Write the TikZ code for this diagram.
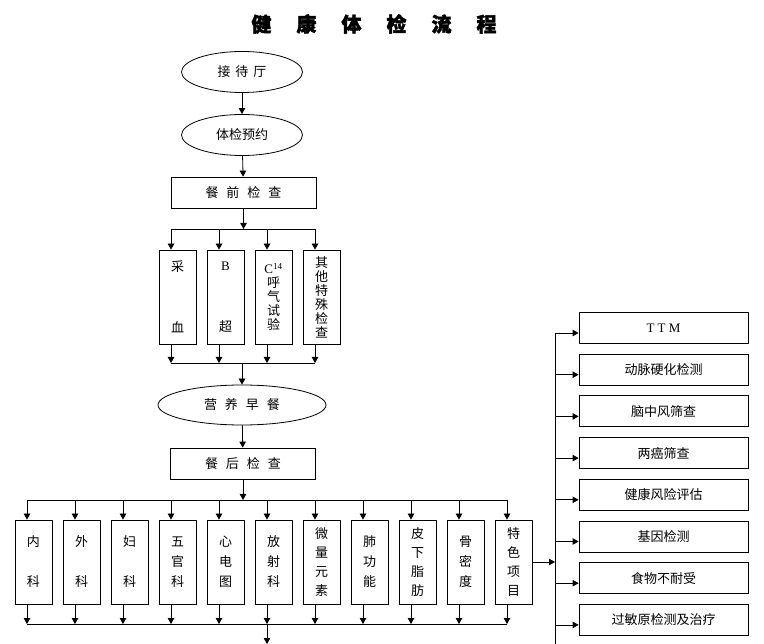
\documentclass[tikz,border=0pt]{standalone}
\usepackage{fontspec}
\setmainfont{Liberation Serif}
\newfontfamily\cjk[BoldFeatures={FakeBold=2}]{Noto Sans CJK SC}
\usetikzlibrary{arrows.meta,positioning,shapes.geometric}
\newcommand{\gp}{\hspace{8pt}}

\begin{document}
\begin{tikzpicture}[x=1pt,y=-1pt,>={Triangle[length=6pt,width=6.5pt]},line width=0.8pt,
    every node/.style={font=\cjk\fontsize{13}{14}\selectfont},
    oval/.style={draw,ellipse,minimum width=121pt,minimum height=41pt,inner sep=0pt},
    stagebox/.style={draw,minimum width=145pt,minimum height=31pt,inner sep=0pt},
    colbox/.style={draw,minimum width=37pt,minimum height=94pt,inner sep=0pt,align=center},
    deptbox/.style={draw,minimum width=37pt,minimum height=84pt,inner sep=0pt,align=center,
      font=\cjk\fontsize{13}{20}\selectfont},
    extrabox/.style={draw,minimum width=169pt,minimum height=31pt,inner sep=0pt}]
    \useasboundingbox (0,0) rectangle (764,644);
    % Title
    \node[font=\cjk\bfseries\fontsize{20}{24}\selectfont] (title) at (374,24)
      {健\hspace{25pt}康\hspace{25pt}体\hspace{25pt}检\hspace{25pt}流\hspace{25pt}程};
    % Main column
    \node[oval] (hall) at (242,72) {接\hspace{5pt}待\hspace{5pt}厅};
    \node[oval] (book) at (242,135) {体检预约};
    \node[stagebox] (pre) at (243.5,192.5) {餐\gp 前\gp 检\gp 查};
    \draw[->] (hall) -- (book);
    \draw[->] (book) -- (pre);
    % Before-meal checks
    \node[colbox] (blood) at (177.5,297) {采\\[47pt]血};
    \node[colbox,right=10.2pt of blood] (bscan) {{\rmfamily B}\\[47pt]超};
    \node[colbox,right=10.2pt of bscan] (breath) {{\rmfamily C\textsuperscript{14}}\\呼\\气\\试\\验};
    \node[colbox,right=10.2pt of breath] (other) {其\\他\\特\\殊\\检\\查};
    \coordinate (bus1) at (0,229);
    \coordinate (bus2) at (0,363);
    \draw[->] (pre) -- (pre |- bus1);
    \draw ([xshift=-6.5pt]blood.north |- bus1) -- ([xshift=-6.5pt]other.north |- bus1);
    \draw ([xshift=-6.5pt]blood.south |- bus2) -- ([xshift=-6.5pt]other.south |- bus2);
    \foreach \n in {blood,bscan,breath,other} {
      \draw[->] ([xshift=-6.5pt]\n.north |- bus1) -- ([xshift=-6.5pt]\n.north);
      \draw[->] ([xshift=-6.5pt]\n.south) -- ([xshift=-6.5pt]\n.south |- bus2);
    }
    % Breakfast and after-meal checks
    \node[oval,minimum width=168pt,minimum height=40pt] (meal) at (242,405) {营\gp 养\gp 早\gp 餐};
    \node[stagebox] (post) at (243,463.5) {餐\gp 后\gp 检\gp 查};
    \draw[->] (meal |- bus2) -- (meal);
    \draw[->] (meal) -- (post);
    \node[deptbox] (nei) at (33.5,562) {内\\[20pt]科};
    \node[deptbox,right=10.2pt of nei] (wai) {外\\[20pt]科};
    \node[deptbox,right=10.2pt of wai] (fu) {妇\\[20pt]科};
    \node[deptbox,right=10.2pt of fu] (wg) {五\\官\\科};
    \node[deptbox,right=10.2pt of wg] (xd) {心\\电\\图};
    \node[deptbox,right=10.2pt of xd] (fs) {放\\射\\科};
    \node[deptbox,right=10.2pt of fs,font=\cjk\fontsize{13}{19}\selectfont] (wl) {微\\量\\元\\素};
    \node[deptbox,right=10.2pt of wl] (fei) {肺\\功\\能};
    \node[deptbox,right=10.2pt of fei,font=\cjk\fontsize{13}{19}\selectfont] (pz) {皮\\下\\脂\\肪};
    \node[deptbox,right=10.2pt of pz] (gm) {骨\\密\\度};
    \node[deptbox,right=10.2pt of gm,font=\cjk\fontsize{13}{19}\selectfont] (ts) {特\\色\\项\\目};
    \coordinate (bus3) at (0,500);
    \coordinate (bus4) at (0,624);
    \coordinate (bottom) at (0,644);
    \draw[->] (post) -- (post |- bus3);
    \draw ([xshift=-6.5pt]nei.north |- bus3) -- ([xshift=-6.5pt]ts.north |- bus3);
    \draw ([xshift=-6.5pt]nei.south |- bus4) -- ([xshift=-6.5pt]ts.south |- bus4);
    \foreach \n in {nei,wai,fu,wg,xd,fs,wl,fei,pz,gm,ts} {
      \draw[->] ([xshift=-6.5pt]\n.north |- bus3) -- ([xshift=-6.5pt]\n.north);
      \draw[->] ([xshift=-6.5pt]\n.south) -- ([xshift=-6.5pt]\n.south |- bus4);
    }
    \draw[->] ([xshift=-6.5pt]fs.south |- bus4) -- ([xshift=-6.5pt]fs.south |- bottom);
    % Special items
    \node[extrabox] (ttm) at (663.5,328) {\rmfamily T T M};
    \node[extrabox,below=9.9pt of ttm] (as) {动脉硬化检测};
    \node[extrabox,below=9.9pt of as] (stroke) {脑中风筛查};
    \node[extrabox,below=9.9pt of stroke] (cancer) {两癌筛查};
    \node[extrabox,below=9.9pt of cancer] (risk) {健康风险评估};
    \node[extrabox,below=9.9pt of risk] (gene) {基因检测};
    \node[extrabox,below=9.9pt of gene] (food) {食物不耐受};
    \node[extrabox,below=9.9pt of food] (allergy) {过敏原检测及治疗};
    \coordinate (spine) at (555,0);
    \draw[->] (ts.east) -- (ts.east -| spine);
    \draw ([yshift=-5pt]ttm.west -| spine) -- (spine |- bottom);
    \foreach \n in {ttm,as,stroke,cancer,risk,gene,food,allergy}
      \draw[->] ([yshift=-5pt]\n.west -| spine) -- ([yshift=-5pt]\n.west);
\end{tikzpicture}
\end{document}
